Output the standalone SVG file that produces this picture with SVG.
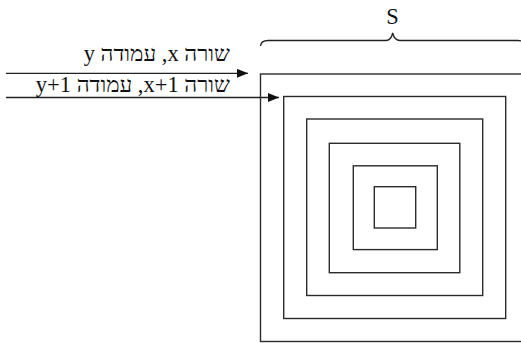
<svg xmlns="http://www.w3.org/2000/svg" width="521" height="343" viewBox="0 0 521 343">
<defs>
<style>
.sq{fill:none;stroke:#2b2b2b;stroke-width:1.4}
.ln{fill:none;stroke:#222;stroke-width:1.3}
.lbl{font-family:"Liberation Serif","Times New Roman",serif;font-size:22.5px;fill:#111}
</style>
<marker id="ah" markerWidth="12" markerHeight="10" refX="11" refY="4.5" orient="auto" markerUnits="userSpaceOnUse">
<path d="M0,0 L11,4.5 L0,9 Z" fill="#111"/>
</marker>
</defs>
<rect width="521" height="343" fill="#fff"/>
<g id="squares">
<rect id="sq1" class="sq" x="260.5" y="74" width="268" height="267.5"/>
<rect id="sq2" class="sq" x="283.7" y="96.5" width="222" height="222"/>
<rect id="sq3" class="sq" x="306.7" y="119" width="176" height="176.5"/>
<rect id="sq4" class="sq" x="329.3" y="143.3" width="130.5" height="129.4"/>
<rect id="sq5" class="sq" x="353.3" y="165.8" width="84" height="83.8"/>
<rect id="sq6" class="sq" x="374.3" y="186.7" width="41.4" height="41.3"/>
</g>
<g id="brace">
<path class="ln" d="M260.5,46 Q261,40.5 268,40.5 L386,40.5 Q391,40.5 392.7,33 Q394.5,40.5 400,40.5 L518,40.5 Q524.5,40.5 525,46"/>
<text class="lbl" x="392.5" y="24" text-anchor="middle" font-size="22">S</text>
</g>
<g id="connectors">
<line class="ln" x1="6" y1="73.3" x2="248" y2="73.3" marker-end="url(#ah)"/>
<line class="ln" x1="6" y1="97.5" x2="279" y2="97.5" marker-end="url(#ah)"/>
</g>
<g id="labels">
<text class="lbl" x="230" y="61" direction="rtl" text-anchor="start">שורה x, עמודה y</text>
<text class="lbl" x="230" y="91.5" direction="rtl" text-anchor="start">שורה x+1, עמודה y+1</text>
</g>
</svg>
